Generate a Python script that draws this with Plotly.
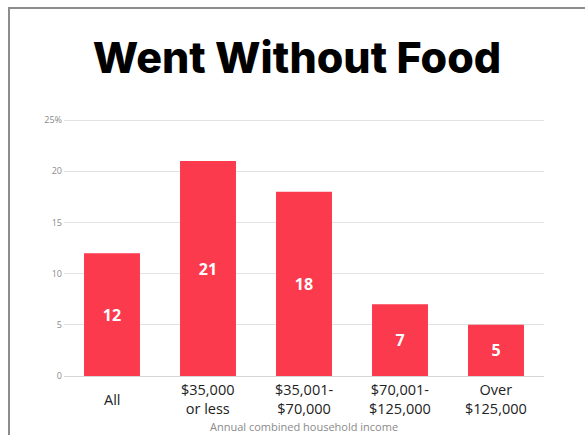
import plotly.graph_objects as go

# Share of respondents who went without food, by household income
categories = ["All", "$35,000<br>or less", "$35,001-<br>$70,000",
              "$70,001-<br>$125,000", "Over<br>$125,000"]
values = [12, 21, 18, 7, 5]
y_tick_vals = [0, 5, 10, 15, 20, 25]
y_tick_text = ["0", "5", "10", "15", "20", "25%"]

BAR_COLOR = "#FC3A4E"
W, H = 585, 435
L, R, T, B = 64, 41, 117, 59
Y_MAX = 25.3
plot_w = W - L - R
plot_h = H - T - B


def px_to_paper_x(px):
    return (px - L) / plot_w


def px_to_paper_y(py):
    return (H - B - py) / plot_h


fig = go.Figure(
    go.Bar(
        x=categories,
        y=values,
        marker=dict(color=BAR_COLOR, line=dict(width=0)),
        text=[str(v) for v in values],
        textposition="inside",
        insidetextanchor="middle",
        textangle=0,
        textfont=dict(family="Open Sans", size=16, color="white", weight="bold"),
        cliponaxis=False,
    )
)

# category labels, vertically centred under each bar
for cat in categories:
    fig.add_annotation(
        x=cat, xref="x", y=px_to_paper_y(399), yref="paper",
        text=cat, showarrow=False, xanchor="center", yanchor="middle",
        font=dict(family="Open Sans", size=14.5, color="#222222"),
    )

fig.add_annotation(
    x=0.5, xref="paper", y=px_to_paper_y(426), yref="paper",
    text="Annual combined household income", showarrow=False,
    xanchor="center", yanchor="middle",
    font=dict(family="Open Sans", size=11, color="#8a8a8a"),
)

# frame lines along the top and left edges
border = dict(color="#8c8c8c", width=2)
fig.add_shape(type="line", xref="paper", yref="paper",
              x0=px_to_paper_x(8), x1=px_to_paper_x(W + 2),
              y0=px_to_paper_y(8), y1=px_to_paper_y(8), line=border)
fig.add_shape(type="line", xref="paper", yref="paper",
              x0=px_to_paper_x(9), x1=px_to_paper_x(9),
              y0=px_to_paper_y(7), y1=px_to_paper_y(H + 2), line=border)

fig.update_layout(
    width=W, height=H,
    margin=dict(l=L, r=R, t=T, b=B, autoexpand=False),
    paper_bgcolor="white", plot_bgcolor="white",
    bargap=0.417,
    showlegend=False,
    title=dict(
        text="Went Without Food",
        x=297 / W, xref="container", xanchor="center",
        y=1 - 58 / H, yref="container", yanchor="middle",
        font=dict(family="Inter", size=43, color="black", weight=800),
    ),
    xaxis=dict(
        showticklabels=False, showgrid=False, zeroline=False,
        showline=True, linecolor="#d6d6d6", linewidth=1, ticks="",
        fixedrange=True,
    ),
    yaxis=dict(
        range=[0, Y_MAX], tickvals=y_tick_vals, ticktext=y_tick_text,
        showgrid=True, gridcolor="#e2e2e2", gridwidth=1,
        zeroline=False, showline=False, ticks="",
        ticklabelstandoff=1,
        tickfont=dict(family="Open Sans", size=9, color="#8a8a8a"),
    ),
)

fig.write_html("out.html")
